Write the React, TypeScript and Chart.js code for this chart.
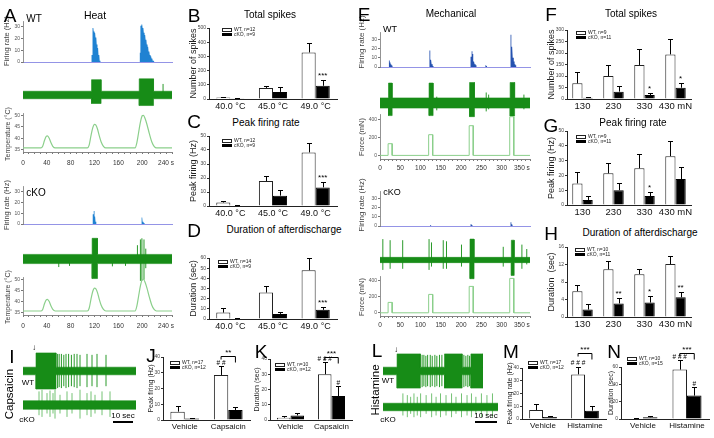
import React, { useEffect, useRef } from 'react';
import { Chart, registerables } from 'chart.js';
Chart.register(...registerables);

const FONT = "'Liberation Sans', Arial, Helvetica, sans-serif";
Chart.defaults.font.family = FONT;

// ---------------- DATA ----------------
// Heat bar panels (B, C, D)
const heatCats = ['40.0 °C', '45.0 °C', '49.0 °C'];
const heatSpikesWT = [10, 78, 328];
const heatSpikesWTErr = [4, 17, 65];
const heatSpikesKO = [2, 50, 93];
const heatSpikesKOErr = [2, 35, 43];
const heatPeakWT = [2.5, 17.8, 38.3];
const heatPeakWTErr = [1.2, 3.8, 6.7];
const heatPeakKO = [0.4, 7.4, 13.3];
const heatPeakKOErr = [0.3, 4.0, 4.1];
const heatDurWT = [6.3, 26, 48];
const heatDurWTErr = [4.5, 6, 12];
const heatDurKO = [0.4, 5, 9];
const heatDurKOErr = [0.3, 2, 3];

// Mechanical bar panels (F, G, H)
const mechCats = ['130', '230', '330', '430 mN'];
const mechSpikesWT = [68, 100, 148, 194];
const mechSpikesWTErr = [51, 48, 68, 65];
const mechSpikesKO = [5, 32, 17, 49];
const mechSpikesKOErr = [3, 24, 10, 22];
const mechPeakWT = [14.6, 21.4, 24.8, 33];
const mechPeakWTErr = [7.8, 6.8, 9.5, 10];
const mechPeakKO = [3.4, 10, 6, 17.5];
const mechPeakKOErr = [2.9, 5, 3, 8];
const mechDurWT = [5.9, 10.9, 9.8, 12.1];
const mechDurWTErr = [1.5, 1.8, 1.1, 1.9];
const mechDurKO = [1.7, 3.1, 3.3, 4.5];
const mechDurKOErr = [1.2, 1.3, 1.5, 1.3];

// Capsaicin / histamine bar panels (J, K, M, N)
const capCats = ['Vehicle', 'Capsaicin'];
const hisCats = ['Vehicle', 'Histamine'];
const capPeakWT = [5.3, 28.6];
const capPeakWTErr = [3.7, 5.4];
const capPeakKO = [1.0, 6.3];
const capPeakKOErr = [0.5, 1.7];
const capDurWT = [1.5, 30];
const capDurWTErr = [0.8, 8];
const capDurKO = [3, 15.7];
const capDurKOErr = [1.8, 6.5];
const hisPeakWT = [7, 35];
const hisPeakWTErr = [4.8, 6];
const hisPeakKO = [1.6, 6.5];
const hisPeakKOErr = [0.8, 3.5];
const hisDurWT = [0.6, 57];
const hisDurWTErr = [0.3, 11];
const hisDurKO = [2, 27];
const hisDurKOErr = [1.2, 9.5];

// Tick labels
const rateTicks = [0, 10, 20, 30];
const tempTicks = [35, 40, 45, 50];
const forceTicks = [0, 200, 400];
const heatTimeTicks = [0, 40, 80, 120, 160, 200, 240];
const mechTimeTicks = [0, 50, 100, 150, 200, 250, 300, 350];

// Heat traces (A): firing-rate bins (Hz), recordings, temperature
const heatRateWT = [
  { t0: 115, w: 1, bins: [6, 27, 29, 28, 26, 25, 23, 21, 18, 15, 12, 9, 6, 3, 1] },
  { t0: 196, w: 1, bins: [8, 31, 33, 32, 30, 29, 27, 25, 23, 21, 19, 17, 15, 13, 11, 9, 7, 6, 5, 4, 3, 2, 1, 1] },
];
const heatRateKO = [
  { t0: 117, w: 1, bins: [9, 14, 12, 7, 4, 2] },
  { t0: 199, w: 1, bins: [6, 5, 2, 3, 1] },
];
const heatRecWT = { base: 0.22, bursts: [[115, 131, -0.5, 0.9], [195, 219, -0.62, 0.95]], spikes: [[235, -0.15, 0.65]] };
const heatRecKO = {
  base: 0.2,
  bursts: [[116, 125, -0.85, 0.9]],
  spikes: [[60, -0.35, 0.1], [78, -0.3, 0.1], [150, -0.32, 0.1], [172, -0.3, 0.1], [192, -0.1, 0.6], [197, -0.95, 0.85], [199.5, -0.95, 0.9], [203, -0.9, 0.85], [206, -0.4, 0.45]],
};
const heatTempT = [0, 30, 33, 36, 39, 41, 44, 47, 50, 54, 108, 111, 114, 117, 120, 122, 125, 128, 131, 135, 139, 188, 191, 194, 197, 200, 202, 205, 208, 212, 216, 220, 224, 250];
const heatTempWT = [35.8, 35.8, 36.5, 39, 40.8, 41, 40, 38, 36.5, 35.8, 35.8, 37, 41, 44.5, 46, 45.8, 44, 41, 38.5, 36.5, 35.8, 35.8, 38, 42.5, 47, 49.8, 50, 48.5, 46, 42, 38.5, 36.5, 35.8, 35.8];
const heatTempKO = [35.8, 35.8, 36.5, 39, 40.8, 41, 40, 38, 36.5, 35.8, 35.8, 37, 41, 44.5, 46, 45.8, 44, 41, 38.5, 36.5, 35.8, 35.8, 38, 42.5, 47, 49.8, 50, 48.5, 46, 42, 38.5, 36.5, 35.8, 35.8];

// Mechanical traces (E)
const mechRateWT = [
  { t0: 22, w: 2, bins: [7, 5, 3, 2, 1] },
  { t0: 122, w: 2, bins: [18, 8, 4, 3, 1] },
  { t0: 222, w: 2, bins: [20, 11, 17, 14, 6, 9, 3, 2] },
  { t0: 260, w: 2, bins: [2, 1] },
  { t0: 322, w: 2, bins: [35, 22, 17, 10, 6, 3, 2] },
];
const mechRateKO = [
  { t0: 124, w: 2, bins: [1] },
  { t0: 222, w: 2, bins: [4, 2, 1] },
  { t0: 322, w: 2, bins: [4, 2, 1] },
];
const mechRecWT = {
  base: 0.24,
  bursts: [[21, 30, -0.6, 0.95], [121, 131, -0.6, 0.95], [221, 233, -0.65, 0.98], [321, 332, -0.62, 0.98]],
  spikes: [[140, -0.35, 0.3], [262, -0.4, 0.5], [268, -0.3, 0.4], [355, -0.3, 0.4]],
};
const mechRecKO = {
  base: 0.12,
  bursts: [[222, 232, -0.85, 0.95], [324, 331, -0.7, 0.9]],
  spikes: [[7, -0.45, 0.95], [25, -0.4, 0.9], [56, -0.4, 0.9], [121, -0.45, 0.95], [127, -0.3, 0.8], [156, -0.4, 0.9], [164, -0.4, 0.85], [201, -0.3, 0.7], [304, -0.3, 0.6], [350, -0.4, 0.7], [362, -0.2, 0.5]],
};
const forceWT = [[20, 30, 130], [120, 130, 230], [220, 230, 330], [320, 330, 430]];
const forceKO = [[20, 30, 130], [120, 130, 230], [220, 230, 330], [320, 330, 430]];

// Capsaicin (I) and histamine (L) recordings, time in s
const capRecWT = {
  base: 0.2,
  bursts: [[6.5, 16.5, -0.95, 0.95]],
  spikes: [[17.3, -0.9, 0.9], [18.1, -0.85, 0.9], [19.2, -0.9, 0.9], [20.4, -0.8, 0.85], [21.5, -0.9, 0.9], [22.8, -0.85, 0.9], [24.2, -0.8, 0.85], [25.6, -0.85, 0.9], [27, -0.9, 0.9], [28.5, -0.8, 0.85], [32, -0.85, 0.9], [34.5, -0.8, 0.85], [37, -0.85, 0.9], [41.5, -0.8, 0.85]],
};
const capRecKO = {
  base: 0.25,
  bursts: [],
  spikes: [[8, -0.6, 0.8], [9.5, -0.7, 0.9], [12, -0.5, 0.7], [13.5, -0.7, 0.85], [15, -0.5, 0.7], [16, -0.8, 0.9], [18.5, -0.5, 0.6], [22, -0.7, 0.8], [24.5, -0.5, 0.7], [28.5, -0.8, 0.9], [32, -0.6, 0.7], [34, -0.7, 0.8], [36, -0.5, 0.6], [39.5, -0.6, 0.8], [43.5, -0.7, 0.8]],
};
const hisRecWT = {
  base: 0.2,
  bursts: [[6.4, 17, -0.9, 0.9], [28, 36, -0.9, 0.9], [40, 45.5, -0.9, 0.9]],
  spikes: [[17.8, -0.85, 0.85], [18.6, -0.8, 0.85], [19.5, -0.85, 0.8], [20.3, -0.8, 0.85], [21.5, -0.85, 0.85], [22.4, -0.8, 0.8], [23.6, -0.85, 0.85], [24.5, -0.8, 0.8], [25.7, -0.85, 0.85], [26.8, -0.8, 0.85], [36.8, -0.85, 0.85], [37.7, -0.8, 0.8], [38.6, -0.85, 0.85], [39.4, -0.8, 0.8]],
};
const hisRecKO = {
  base: 0.22,
  bursts: [],
  spikes: [[9, -0.5, 0.8], [11, -0.6, 0.7], [12.5, -0.4, 0.6], [14, -0.6, 0.8], [15.5, -0.5, 0.6], [17, -0.6, 0.8], [19.5, -0.4, 0.7], [22, -0.6, 0.8], [24, -0.5, 0.6], [26, -0.6, 0.8], [28.5, -0.5, 0.7], [31, -0.6, 0.8], [33, -0.4, 0.6], [35.5, -0.6, 0.8], [38, -0.5, 0.7], [40, -0.6, 0.8], [42, -0.4, 0.6], [44.5, -0.6, 0.8], [47, -0.5, 0.7], [49.5, -0.6, 0.8]],
};

// ---------------- COLOURS ----------------
const GREEN = '#178c17';
const GREEN_SPIKE = '#2a9a2a';
const GREEN_LIGHT = '#74c274';
const TEMP_GREEN = '#8bcf8b';
const HEAT_BLUE = '#1f82d2';
const MECH_BLUE = '#2552b0';
const LAVENDER = '#9494e6';

// ---------------- HELPERS ----------------
function histPts(bursts: any[], xMax: number) {
  const pts: any[] = [{ x: 0, y: 0 }];
  bursts.forEach((b) => {
    pts.push({ x: b.t0, y: 0 });
    b.bins.forEach((v: number, k: number) => {
      pts.push({ x: b.t0 + k * b.w, y: v }, { x: b.t0 + (k + 1) * b.w, y: v });
    });
    pts.push({ x: b.t0 + b.bins.length * b.w, y: 0 });
  });
  pts.push({ x: xMax, y: 0 });
  return pts;
}
function envPts(rec: any, xMax: number, upper: boolean) {
  const b0 = upper ? rec.base : -rec.base;
  const pts: any[] = [{ x: 0, y: b0 }];
  rec.bursts.forEach((b: number[]) => {
    const v = upper ? b[3] : b[2];
    pts.push({ x: b[0], y: b0 }, { x: b[0], y: v }, { x: b[1], y: v }, { x: b[1], y: b0 });
  });
  pts.push({ x: xMax, y: b0 });
  return pts;
}
function spikePts(sp: number[][]) {
  const pts: any[] = [];
  sp.forEach((s) => pts.push({ x: s[0], y: s[1] }, { x: s[0], y: s[2] }, { x: s[0], y: null }));
  return pts;
}
function pulsePts(pulses: number[][], xMax: number) {
  const pts: any[] = [{ x: 0, y: 0 }];
  pulses.forEach((p) => pts.push({ x: p[0], y: 0 }, { x: p[0], y: p[2] }, { x: p[1], y: p[2] }, { x: p[1], y: 0 }));
  pts.push({ x: xMax, y: 0 });
  return pts;
}
function zip(t: number[], v: number[]) {
  return t.map((x, i) => ({ x, y: v[i] }));
}

function makeMarks(errs: number[][], items: any[]) {
  return {
    id: 'marks',
    afterDatasetsDraw(chart: any) {
      const ctx = chart.ctx;
      const ys = chart.scales.y;
      ctx.save();
      ctx.strokeStyle = '#000';
      ctx.fillStyle = '#000';
      ctx.lineWidth = 1;
      errs.forEach((e, di) => {
        const meta = chart.getDatasetMeta(di);
        const data = chart.data.datasets[di].data;
        meta.data.forEach((el: any, i: number) => {
          const top = Math.round(ys.getPixelForValue(data[i] + e[i])) + 0.5;
          const x = Math.round(el.x) + 0.5;
          ctx.beginPath();
          ctx.moveTo(x, el.y);
          ctx.lineTo(x, top);
          ctx.moveTo(x - 2.5, top);
          ctx.lineTo(x + 2.5, top);
          ctx.stroke();
        });
      });
      items.forEach((it) => {
        ctx.textAlign = 'center';
        ctx.textBaseline = 'alphabetic';
        ctx.font = `${it.size || 8}px ${FONT}`;
        if (it.t === 'txt') {
          const el = chart.getDatasetMeta(it.ds).data[it.i];
          const data = chart.data.datasets[it.ds].data;
          const top = ys.getPixelForValue(data[it.i] + errs[it.ds][it.i]);
          ctx.fillText(it.s, el.x, top - (it.gap ?? 2));
        } else {
          const a = chart.getDatasetMeta(0).data[it.i].x;
          const b = chart.getDatasetMeta(1).data[it.i].x;
          const y = Math.round(ys.getPixelForValue(it.v)) + 0.5;
          ctx.beginPath();
          ctx.moveTo(a, y + 3);
          ctx.lineTo(a, y);
          ctx.lineTo(b, y);
          ctx.lineTo(b, y + 6);
          ctx.stroke();
          ctx.fillText(it.s, (a + b) / 2, y - 1.5);
        }
      });
      ctx.restore();
    },
  };
}

function barMaker(p: any) {
  return (padding: any, yw: number, xh: number) => ({
    type: 'bar',
    data: {
      labels: p.cats,
      datasets: [
        { data: p.wt, backgroundColor: '#ffffff', borderColor: '#222', borderWidth: 1, categoryPercentage: 0.66, barPercentage: 1 },
        { data: p.ko, backgroundColor: '#000000', borderColor: '#000', borderWidth: 1, categoryPercentage: 0.66, barPercentage: 1 },
      ],
    },
    options: {
      responsive: false,
      animation: false,
      events: [],
      layout: { padding },
      plugins: { legend: { display: false }, tooltip: { enabled: false } },
      scales: {
        x: {
          type: 'category',
          grid: { display: false, drawTicks: false },
          border: { display: true, color: '#222', width: 1 },
          ticks: { font: { size: p.catSize }, color: '#111', padding: 2, autoSkip: false, maxRotation: 0 },
          afterFit: (s: any) => { s.height = xh; },
        },
        y: {
          min: 0,
          max: p.yMax,
          grid: { drawOnChartArea: false, drawTicks: true, tickLength: 2, color: '#333' },
          border: { display: true, color: '#222', width: 1 },
          ticks: { stepSize: p.yStep, font: { size: 5 }, color: '#444', padding: 1 },
          title: { display: true, text: p.yTitle, font: { size: p.titleSize }, color: '#222', padding: 0 },
          afterFit: (s: any) => { s.width = yw; },
        },
      },
    },
    plugins: [makeMarks([p.wtErr, p.koErr], p.items || [])],
  });
}

function yAxis(ticks: number[], min: number, max: number, yw: number) {
  return {
    type: 'linear',
    min,
    max,
    afterFit: (s: any) => { s.width = yw; },
    afterBuildTicks: (s: any) => { s.ticks = ticks.map((v) => ({ value: v })); },
    grid: { drawOnChartArea: false, drawTicks: true, tickLength: 2, color: '#777' },
    border: { display: true, color: '#777', width: 0.8 },
    ticks: { font: { size: 5 }, color: '#555', padding: 1, autoSkip: false },
  };
}
function xTime(min: number, max: number, labels: number[], minor: number, xh: number, pad: number) {
  const last = labels[labels.length - 1];
  return {
    type: 'linear',
    min,
    max,
    afterFit: (s: any) => { s.height = xh; },
    afterBuildTicks: (s: any) => {
      const t: any[] = [];
      for (let v = min; v <= max + 1e-9; v += minor) t.push({ value: v });
      s.ticks = t;
    },
    grid: { display: true, drawOnChartArea: false, drawTicks: true, tickLength: 2, color: '#777' },
    border: { display: true, color: '#666', width: 0.8 },
    ticks: {
      autoSkip: false,
      maxRotation: 0,
      font: { size: 6.5 },
      color: '#333',
      padding: pad,
      callback: (v: number) => (labels.includes(v) ? (v === last ? `${v} s` : `${v}`) : ''),
    },
  };
}
function xBase(min: number, max: number) {
  return {
    type: 'linear',
    min,
    max,
    afterFit: (s: any) => { s.height = 0; },
    grid: { display: false, drawTicks: false },
    ticks: { display: false },
    border: { display: true, color: LAVENDER, width: 1 },
  };
}
function baseOpts(padding: any, scales: any) {
  return {
    responsive: false,
    animation: false,
    events: [],
    layout: { padding },
    plugins: { legend: { display: false }, tooltip: { enabled: false } },
    elements: { point: { radius: 0 }, line: { tension: 0 } },
    scales,
  };
}

function rateMaker(bursts: any[], xMax: number, yMax: number, color: string) {
  return (padding: any, yw: number) => ({
    type: 'line',
    data: { datasets: [{ data: histPts(bursts, xMax), borderWidth: 0, borderColor: color, backgroundColor: color, fill: 'origin', pointRadius: 0 }] },
    options: baseOpts(padding, { x: xBase(0, xMax), y: yAxis(rateTicks, 0, yMax, yw) }),
  });
}
function recMaker(rec: any, xMax: number, spikeColor: string) {
  return (padding: any) => ({
    type: 'line',
    data: {
      datasets: [
        { data: envPts(rec, xMax, false), borderColor: GREEN, borderWidth: 0.6, backgroundColor: GREEN, fill: 'origin', pointRadius: 0 },
        { data: envPts(rec, xMax, true), borderColor: GREEN, borderWidth: 0.6, backgroundColor: GREEN, fill: 'origin', pointRadius: 0 },
        { data: spikePts(rec.spikes), borderColor: spikeColor, borderWidth: 1, fill: false, pointRadius: 0, spanGaps: false },
      ],
    },
    options: baseOpts(padding, {
      x: { type: 'linear', min: 0, max: xMax, display: false },
      y: { type: 'linear', min: -1, max: 1, display: false },
    }),
  });
}
function tempMaker(t: number[], v: number[]) {
  return (padding: any, yw: number, xh: number) => ({
    type: 'line',
    data: { datasets: [{ data: zip(t, v), borderColor: TEMP_GREEN, borderWidth: 1.2, fill: false, pointRadius: 0, cubicInterpolationMode: 'monotone' }] },
    options: baseOpts(padding, { x: xTime(0, 250, heatTimeTicks, 10, xh, 5), y: yAxis(tempTicks, 34, 51, yw) }),
  });
}
function forceMaker(pulses: number[][]) {
  return (padding: any, yw: number, xh: number) => ({
    type: 'line',
    data: { datasets: [{ data: pulsePts(pulses, 370), borderColor: TEMP_GREEN, borderWidth: 1, fill: false, pointRadius: 0 }] },
    options: baseOpts(padding, { x: xTime(0, 370, mechTimeTicks, 10, xh, 3), y: yAxis(forceTicks, -40, 460, yw) }),
  });
}

function ChartBox({ area, yw = 0, xh = 0, pt = 0, pr = 0, make }: any) {
  const ref = useRef<HTMLCanvasElement>(null);
  const left = area[0] - yw;
  const top = area[2] - pt;
  const width = area[1] - area[0] + yw + pr;
  const height = area[3] - area[2] + pt + xh;
  useEffect(() => {
    const ch = new Chart(ref.current as HTMLCanvasElement, make({ top: pt, right: pr, left: 0, bottom: 0 }, yw, xh) as any);
    return () => ch.destroy();
  }, []);
  return <canvas ref={ref} width={width} height={height} style={{ position: 'absolute', left, top, width, height }} />;
}

function Txt({ x, y, s, size = 10, rot = 0, color = '#000', weight = 400 }: any) {
  return (
    <div
      style={{
        position: 'absolute', left: x, top: y, transform: `translate(-50%,-50%) rotate(${rot}deg)`,
        fontSize: size, lineHeight: 1, whiteSpace: 'nowrap', color, fontWeight: weight,
      }}
    >
      {s}
    </div>
  );
}
function Legend({ x, y, a, b }: any) {
  return (
    <div style={{ position: 'absolute', left: x, top: y }}>
      <div style={{ position: 'absolute', left: 0, top: 0, width: 8, height: 2, border: '0.8px solid #222', background: '#fff' }} />
      <div style={{ position: 'absolute', left: 0, top: 4.5, width: 9.6, height: 3, background: '#000' }} />
      <div style={{ position: 'absolute', left: 12, top: -1.5, fontSize: 5, lineHeight: '5.5px', whiteSpace: 'nowrap', color: '#222' }}>
        {a}
        <br />
        {b}
      </div>
    </div>
  );
}
function ScaleBar({ x0, x1, y }: any) {
  return (
    <>
      <Txt x={(x0 + x1) / 2} y={y - 5} s="10 sec" size={8} />
      <div style={{ position: 'absolute', left: x0, top: y, width: x1 - x0, height: 1.5, background: '#000' }} />
    </>
  );
}

export default function App() {
  const letters: any[] = [
    ['A', 10, 15], ['B', 194, 15], ['C', 194, 121], ['D', 194, 230], ['E', 364, 14], ['F', 551, 14],
    ['G', 551, 125], ['H', 551, 233], ['I', 12, 356], ['J', 151, 355], ['K', 261, 351], ['L', 377, 350],
    ['M', 511, 351], ['N', 614, 351],
  ];
  const AX = '#444';
  return (
    <div style={{ position: 'fixed', left: 0, top: 0, width: 714, height: 438, background: '#fff', overflow: 'hidden', fontFamily: FONT }}>
      {/* A: heat traces */}
      <ChartBox area={[23, 172, 21, 66]} yw={20} pt={4} pr={2} make={rateMaker(heatRateWT, 250, 35, HEAT_BLUE)} />
      <ChartBox area={[23, 172, 78, 112]} make={recMaker(heatRecWT, 250, GREEN_SPIKE)} />
      <ChartBox area={[23, 172, 113, 152]} yw={20} xh={20} pt={4} pr={10} make={tempMaker(heatTempT, heatTempWT)} />
      <ChartBox area={[23, 172, 186, 228]} yw={20} pt={4} pr={2} make={rateMaker(heatRateKO, 250, 35, HEAT_BLUE)} />
      <ChartBox area={[23, 172, 236, 282]} make={recMaker(heatRecKO, 250, GREEN_SPIKE)} />
      <ChartBox area={[23, 172, 277, 315]} yw={20} xh={20} pt={4} pr={10} make={tempMaker(heatTempT, heatTempKO)} />

      {/* E: mechanical traces */}
      <ChartBox area={[380, 530, 32, 71]} yw={22} pt={4} pr={2} make={rateMaker(mechRateWT, 370, 38, MECH_BLUE)} />
      <ChartBox area={[380, 530, 82, 124]} make={recMaker(mechRecWT, 370, GREEN_SPIKE)} />
      <ChartBox area={[380, 530, 114, 159]} yw={22} xh={18} pt={4} pr={10} make={forceMaker(forceWT)} />
      <ChartBox area={[380, 530, 191, 230]} yw={22} pt={4} pr={2} make={rateMaker(mechRateKO, 370, 38, MECH_BLUE)} />
      <ChartBox area={[380, 530, 238, 282]} make={recMaker(mechRecKO, 370, GREEN_SPIKE)} />
      <ChartBox area={[380, 530, 276, 316]} yw={22} xh={18} pt={4} pr={10} make={forceMaker(forceKO)} />

      {/* I / L: capsaicin and histamine recordings */}
      <ChartBox area={[23, 136, 352, 390]} make={recMaker(capRecWT, 56.5, GREEN_SPIKE)} />
      <ChartBox area={[23, 136, 388, 422]} make={recMaker(capRecKO, 56.5, GREEN_LIGHT)} />
      <ChartBox area={[383, 483, 352, 390]} make={recMaker(hisRecWT, 45.5, GREEN_SPIKE)} />
      <ChartBox area={[383, 498, 390, 424]} make={recMaker(hisRecKO, 52, GREEN_LIGHT)} />

      {/* B, C, D */}
      <ChartBox area={[209, 337, 28, 99]} yw={21} xh={14} pt={6} pr={4}
        make={barMaker({ cats: heatCats, wt: heatSpikesWT, wtErr: heatSpikesWTErr, ko: heatSpikesKO, koErr: heatSpikesKOErr, yMax: 500, yStep: 100, yTitle: 'Number of spikes', titleSize: 9, catSize: 9, items: [{ t: 'txt', ds: 1, i: 2, s: '***' }] })} />
      <ChartBox area={[209, 337, 136, 206]} yw={21} xh={14} pt={6} pr={4}
        make={barMaker({ cats: heatCats, wt: heatPeakWT, wtErr: heatPeakWTErr, ko: heatPeakKO, koErr: heatPeakKOErr, yMax: 50, yStep: 10, yTitle: 'Peak firing (Hz)', titleSize: 9, catSize: 9, items: [{ t: 'txt', ds: 1, i: 2, s: '***' }] })} />
      <ChartBox area={[209, 337, 258, 319]} yw={21} xh={14} pt={6} pr={4}
        make={barMaker({ cats: heatCats, wt: heatDurWT, wtErr: heatDurWTErr, ko: heatDurKO, koErr: heatDurKOErr, yMax: 60, yStep: 10, yTitle: 'Duration (sec)', titleSize: 9, catSize: 9, items: [{ t: 'txt', ds: 1, i: 2, s: '***' }] })} />

      {/* F, G, H */}
      <ChartBox area={[567, 691, 30, 99]} yw={21} xh={14} pt={6} pr={6}
        make={barMaker({ cats: mechCats, wt: mechSpikesWT, wtErr: mechSpikesWTErr, ko: mechSpikesKO, koErr: mechSpikesKOErr, yMax: 300, yStep: 50, yTitle: 'Number of spikes', titleSize: 9, catSize: 9.5, items: [{ t: 'txt', ds: 1, i: 2, s: '*' }, { t: 'txt', ds: 1, i: 3, s: '*' }] })} />
      <ChartBox area={[567, 691, 131, 205]} yw={21} xh={14} pt={6} pr={6}
        make={barMaker({ cats: mechCats, wt: mechPeakWT, wtErr: mechPeakWTErr, ko: mechPeakKO, koErr: mechPeakKOErr, yMax: 50, yStep: 10, yTitle: 'Peak firing (Hz)', titleSize: 9, catSize: 9.5, items: [{ t: 'txt', ds: 1, i: 2, s: '*' }] })} />
      <ChartBox area={[567, 691, 247, 317]} yw={21} xh={14} pt={6} pr={6}
        make={barMaker({ cats: mechCats, wt: mechDurWT, wtErr: mechDurWTErr, ko: mechDurKO, koErr: mechDurKOErr, yMax: 16, yStep: 2, yTitle: 'Duration  (sec)', titleSize: 9, catSize: 9.5, items: [{ t: 'txt', ds: 1, i: 1, s: '**' }, { t: 'txt', ds: 1, i: 2, s: '*' }, { t: 'txt', ds: 1, i: 3, s: '**' }] })} />

      {/* J, K, M, N */}
      <ChartBox area={[163, 250, 357, 420]} yw={16} xh={14} pt={22} pr={4}
        make={barMaker({ cats: capCats, wt: capPeakWT, wtErr: capPeakWTErr, ko: capPeakKO, koErr: capPeakKOErr, yMax: 40, yStep: 10, yTitle: 'Peak firing (Hz)', titleSize: 7, catSize: 8, items: [{ t: 'txt', ds: 0, i: 1, s: '# #', size: 6.5, gap: 1.5 }, { t: 'brk', i: 1, v: 40.5, s: '**' }] })} />
      <ChartBox area={[270, 352, 359, 420]} yw={17} xh={14} pt={22} pr={4}
        make={barMaker({ cats: capCats, wt: capDurWT, wtErr: capDurWTErr, ko: capDurKO, koErr: capDurKOErr, yMax: 40, yStep: 10, yTitle: 'Duration (sec)', titleSize: 7, catSize: 8, items: [{ t: 'txt', ds: 0, i: 1, s: '# # #', size: 6.5, gap: 1.5 }, { t: 'txt', ds: 1, i: 1, s: '#', size: 6.5, gap: 1.5 }, { t: 'brk', i: 1, v: 41.5, s: '***' }] })} />
      <ChartBox area={[522, 606, 368, 419]} yw={16} xh={14} pt={30} pr={4}
        make={barMaker({ cats: hisCats, wt: hisPeakWT, wtErr: hisPeakWTErr, ko: hisPeakKO, koErr: hisPeakKOErr, yMax: 40, yStep: 10, yTitle: 'Peak firing rate (Hz)', titleSize: 7, catSize: 8, items: [{ t: 'txt', ds: 0, i: 1, s: '# # #', size: 6.5, gap: 1.5 }, { t: 'brk', i: 1, v: 52, s: '***' }] })} />
      <ChartBox area={[621, 709, 367, 419]} yw={14} xh={14} pt={28} pr={4}
        make={barMaker({ cats: hisCats, wt: hisDurWT, wtErr: hisDurWTErr, ko: hisDurKO, koErr: hisDurKOErr, yMax: 60, yStep: 20, yTitle: 'Duration (sec)', titleSize: 7, catSize: 8, items: [{ t: 'txt', ds: 0, i: 1, s: '# # #', size: 6.5, gap: 1.5 }, { t: 'txt', ds: 1, i: 1, s: '#', size: 6.5, gap: 1.5 }, { t: 'brk', i: 1, v: 76, s: '***' }] })} />

      {/* trace axis titles */}
      <Txt x={7} y={41} s="Firing rate (Hz)" size={7.5} rot={-90} color={AX} />
      <Txt x={7} y={134} s="Temperature (°C)" size={7} rot={-90} color={AX} />
      <Txt x={7} y={205} s="Firing rate (Hz)" size={7.5} rot={-90} color={AX} />
      <Txt x={7} y={297} s="Temperature (°C)" size={7} rot={-90} color={AX} />
      <Txt x={362} y={42} s="Firing rate  (Hz)" size={8} rot={-90} color={AX} />
      <Txt x={362} y={137} s="Force (mN)" size={7.5} rot={-90} color={AX} />
      <Txt x={362} y={205} s="Firing rate  (Hz)" size={8} rot={-90} color={AX} />
      <Txt x={362} y={297} s="Force (mN)" size={7.5} rot={-90} color={AX} />

      {/* panel letters */}
      {letters.map(([s, x, y]) => <Txt key={s} x={x} y={y} s={s} size={19} />)}

      {/* titles */}
      <Txt x={95} y={15} s="Heat" size={10.5} />
      <Txt x={270} y={15} s="Total spikes" size={10} />
      <Txt x={266} y={123} s="Peak firing rate" size={10} />
      <Txt x={284} y={230} s="Duration of afterdischarge" size={10} />
      <Txt x={451} y={14} s="Mechanical" size={10} />
      <Txt x={631} y={14} s="Total spikes" size={10} />
      <Txt x={633} y={123} s="Peak firing rate" size={10} />
      <Txt x={640} y={233} s="Duration of afterdischarge" size={10} />

      {/* trace labels */}
      <Txt x={34} y={19} s="WT" size={10} />
      <Txt x={36} y={193} s="cKO" size={10} />
      <Txt x={390} y={29} s="WT" size={9} />
      <Txt x={392} y={192} s="cKO" size={9} />
      <Txt x={28} y={383} s="WT" size={8} />
      <Txt x={27} y={420} s="cKO" size={8} />
      <Txt x={388} y={381} s="WT" size={8} />
      <Txt x={388} y={420} s="cKO" size={8} />
      <Txt x={10} y={394} s="Capsaicin" size={11.5} rot={-90} />
      <Txt x={376} y={390} s="Histamine" size={11.5} rot={-90} />
      <Txt x={34} y={348} s="↓" size={8} />
      <Txt x={396} y={350} s="↓" size={8} />
      <ScaleBar x0={113} x1={133} y={421} />
      <ScaleBar x0={475} x1={497} y={421} />

      {/* legends */}
      <Legend x={222} y={28} a="WT, n=12" b="cKO, n=9" />
      <Legend x={222} y={139} a="WT, n=12" b="cKO, n=9" />
      <Legend x={218} y={260} a="WT, n=14" b="cKO, n=9" />
      <Legend x={576} y={31} a="WT, n=9" b="cKO, n=11" />
      <Legend x={576} y={135} a="WT, n=9" b="cKO, n=11" />
      <Legend x={575} y={248} a="WT, n=10" b="cKO, n=11" />
      <Legend x={170} y={361} a="WT, n=17" b="cKO, n=12" />
      <Legend x={275} y={363} a="WT, n=10" b="cKO, n=12" />
      <Legend x={528} y={361} a="WT, n=17" b="cKO, n=12" />
      <Legend x={627} y={357} a="WT, n=10" b="cKO, n=15" />
    </div>
  );
}
